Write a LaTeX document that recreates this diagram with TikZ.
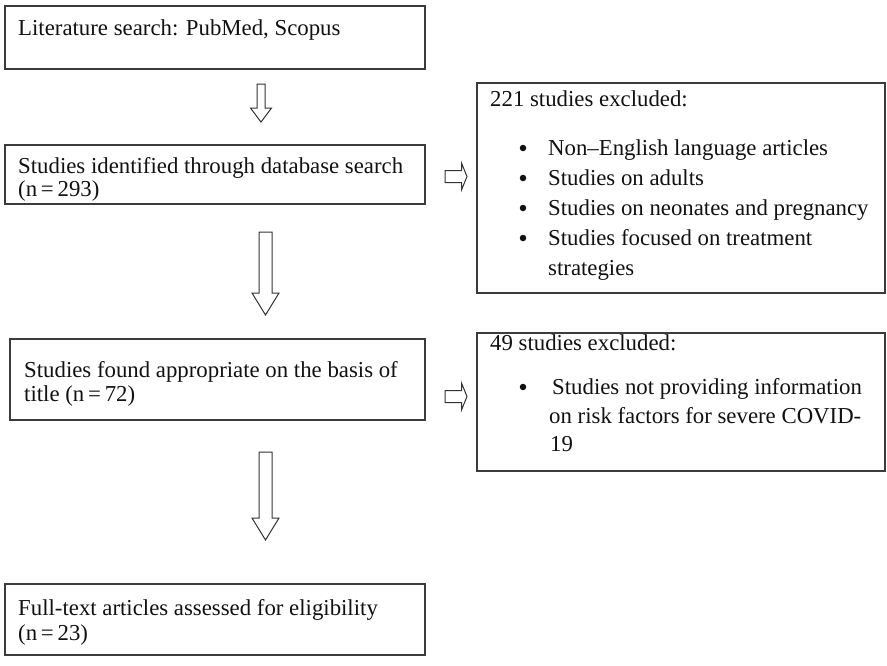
\documentclass[tikz,border=0pt]{standalone}
\usepackage{fontspec}
\setmainfont{Liberation Serif}
\definecolor{boxgray}{HTML}{3C3C3C}
\definecolor{arrowgray}{HTML}{333333}
\definecolor{txtblack}{HTML}{111111}
\begin{document}
\begin{tikzpicture}[x=1pt,y=-1pt,
  box/.style={draw=boxgray, line width=1.4pt, anchor=north west, inner sep=0pt, outer sep=0pt},
  txt/.style={anchor=base west, inner sep=0pt, text=txtblack, font=\fontsize{22.8}{25}\selectfont},
  bul/.style={circle, fill=txtblack, inner sep=0pt, minimum size=6.5pt},
  blockarrow/.style={draw=arrowgray, line width=1pt, fill=white, line join=miter}]
\useasboundingbox (0,0) rectangle (887,665);
% boxes
\node[box, minimum width=420pt, minimum height=63pt] (b1) at (5,6) {};
\node[box, minimum width=420pt, minimum height=59pt] (b2) at (5,145) {};
\node[box, minimum width=415pt, minimum height=81pt] (b3) at (10,339) {};
\node[box, minimum width=420pt, minimum height=71pt] (b4) at (5,584) {};
\node[box, minimum width=408pt, minimum height=210pt] (r1) at (477,83) {};
\node[box, minimum width=408pt, minimum height=138pt] (r2) at (477,333) {};
% texts of left boxes
\node[txt] (t1) at (18,35) {Literature search: PubMed, Scopus};
\node[txt] (t2a) at (18,173) {Studies identified through database search};
\node[txt] (t2b) at (18,196) {(n\,=\,293)};
\node[txt] (t3a) at (24,377) {Studies found appropriate on the basis of};
\node[txt] (t3b) at (24,401) {title (n\,=\,72)};
\node[txt] (t4a) at (18,615) {Full-text articles assessed for eligibility};
\node[txt] (t4b) at (18,640) {(n\,=\,23)};
% right box 1
\node[txt] (r1h) at (490,106) {221 studies excluded:};
\node[bul] (r1b1) at (523,148) {};
\node[txt] (r1i1) at (548,155) {Non–English language articles};
\node[bul] (r1b2) at (523,178) {};
\node[txt] (r1i2) at (548,185) {Studies on adults};
\node[bul] (r1b3) at (523,208) {};
\node[txt] (r1i3) at (548,215) {Studies on neonates and pregnancy};
\node[bul] (r1b4) at (523,238) {};
\node[txt] (r1i4) at (548,245) {Studies focused on treatment};
\node[txt] (r1i4b) at (548,275) {strategies};
% right box 2
\node[txt] (r2h) at (490,350) {49 studies excluded:};
\node[bul] (r2b1) at (523,387) {};
\node[txt] (r2i1) at (552,394) {Studies not providing information};
\node[txt] (r2i1b) at (549,423) {on risk factors for severe COVID-};
\node[txt] (r2i1c) at (550,451) {19};
% block arrows
\draw[blockarrow] (257,84) -- (265,84) -- (265,108) -- (271.5,108) -- (261,122) -- (250.5,108) -- (257,108) -- cycle;
\draw[blockarrow] (259,232) -- (272,232) -- (272,293) -- (279,293) -- (265.5,315) -- (252,293) -- (259,293) -- cycle;
\draw[blockarrow] (259,452) -- (272,452) -- (272,518) -- (279,518) -- (265.5,540) -- (252,518) -- (259,518) -- cycle;
\draw[blockarrow] (445,170.5) -- (461.5,170.5) -- (461.5,163) -- (467,176.5) -- (461.5,190) -- (461.5,182.5) -- (445,182.5) -- cycle;
\draw[blockarrow] (445,390.5) -- (461.5,390.5) -- (461.5,383) -- (467,396.5) -- (461.5,410) -- (461.5,402.5) -- (445,402.5) -- cycle;
\end{tikzpicture}
\end{document}
